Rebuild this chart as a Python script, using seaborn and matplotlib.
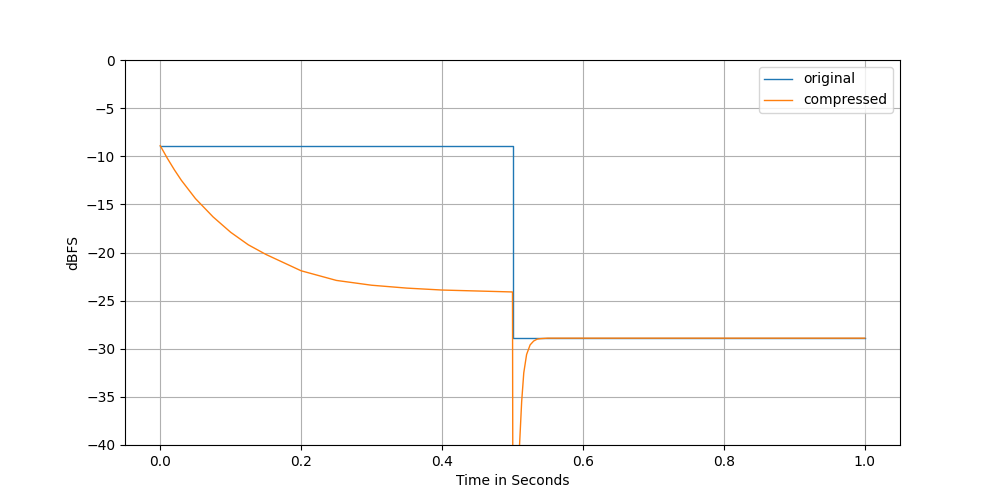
import matplotlib
matplotlib.use("Agg")
import matplotlib.pyplot as plt
import seaborn as sns

orig_t = [0.0, 0.5, 0.5, 1.0]
orig_db = [-8.9, -8.9, -28.9, -28.9]

comp_t = [0.0, 0.01, 0.02, 0.03, 0.05, 0.075, 0.1, 0.125, 0.15, 0.2, 0.25, 0.3, 0.35, 0.4, 0.45, 0.5,
          0.5005, 0.507, 0.51, 0.513, 0.516, 0.52, 0.525, 0.53, 0.535, 0.54, 0.55, 0.6, 1.0]
comp_db = [-8.9, -10.2, -11.4, -12.5, -14.4, -16.3, -17.9, -19.2, -20.2, -21.9, -22.9, -23.4, -23.7, -23.9, -24.0, -24.1,
           -46.0, -46.0, -40.0, -35.5, -32.5, -30.6, -29.6, -29.2, -29.0, -28.95, -28.9, -28.9, -28.9]

fig, ax = plt.subplots(figsize=(10, 5), dpi=100)
sns.lineplot(x=orig_t, y=orig_db, ax=ax, color="#1f77b4", linewidth=1, label="original", sort=False, estimator=None)
sns.lineplot(x=comp_t, y=comp_db, ax=ax, color="#ff7f0e", linewidth=1, label="compressed", sort=False, estimator=None)
ax.set_ylim(-40, 0)
ax.set_xlim(-0.05, 1.05)
ax.grid(True)
ax.set_xlabel("Time in Seconds")
ax.set_ylabel("dBFS")
ax.legend(loc="upper right")
fig.savefig("out.png")
